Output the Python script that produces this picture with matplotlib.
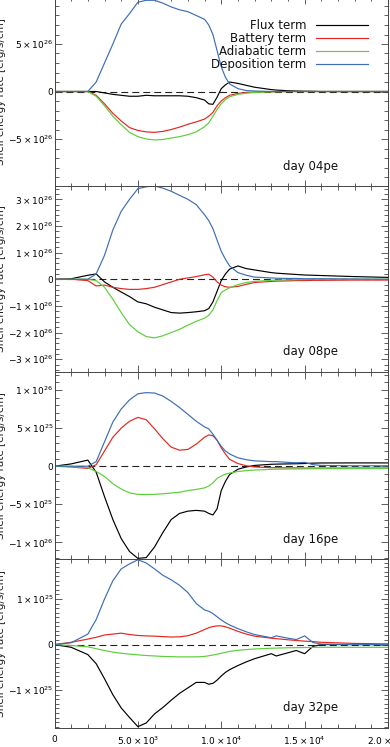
import numpy as np
import matplotlib
matplotlib.use('Agg')
import matplotlib.pyplot as plt
from matplotlib.ticker import FixedLocator, MultipleLocator, FuncFormatter

plt.rcParams['font.family'] = ['DejaVu Sans']
plt.rcParams['mathtext.fontset'] = 'dejavusans'
plt.rcParams['lines.scale_dashes'] = False

# ---------------- data ----------------
radius = [0, 1000, 2000, 2500, 3000, 3500, 4000, 4500, 5000, 5500, 6000, 6500,
          7000, 7500, 8000, 8500, 9000, 9250, 9500, 9750, 10000, 10250, 10500,
          11000, 11500, 12000, 13000, 13300, 14000, 14500, 15000, 15500, 16000,
          18000, 20000]

days = ['04pe', '08pe', '16pe', '32pe']
units = [1e26, 1e26, 1e25, 1e24]

# day 04pe  (units of 1e26 erg/s/cm)
flux_04 = [0, 0, 0, 0, -0.15, -0.3, -0.4, -0.5, -0.5, -0.4, -0.45, -0.45, -0.45,
           -0.45, -0.5, -0.65, -0.9, -1.3, -1.35, -0.6, 0.3, 0.7, 1.0, 0.85,
           0.65, 0.45, 0.2, 0.15, 0.08, 0.05, 0.03, 0.02, 0, 0, 0]
batt_04 = [0, 0, 0, -0.4, -1.3, -2.3, -3.1, -3.8, -4.1, -4.25, -4.3, -4.2, -4.0,
           -3.75, -3.45, -3.2, -2.9, -2.6, -2.2, -1.5, -1.0, -0.65, -0.4, -0.2,
           -0.1, -0.06, -0.03, -0.02, 0, 0, 0, 0, 0, 0, 0]
adia_04 = [0, 0, 0, -0.5, -1.5, -2.6, -3.5, -4.3, -4.75, -5.0, -5.1, -5.05, -4.9,
           -4.75, -4.55, -4.25, -3.7, -3.3, -2.6, -1.9, -1.3, -0.85, -0.55, -0.3,
           -0.18, -0.1, -0.03, -0.02, 0, 0, 0, 0, 0, 0, 0]
depo_04 = [0, 0, 0, 1.0, 3.0, 5.0, 7.1, 8.2, 9.4, 9.6, 9.6, 9.3, 8.9, 8.6, 8.4,
           8.0, 7.6, 7.0, 6.0, 4.3, 2.6, 1.5, 0.8, 0.3, 0.1, 0.05, 0, 0, 0, 0,
           0, 0, 0, 0, 0]

# day 08pe  (units of 1e26)
flux_08 = [0, 0.02, 0.15, 0.2, -0.1, -0.3, -0.48, -0.65, -0.85, -0.92, -1.05,
           -1.15, -1.25, -1.27, -1.25, -1.22, -1.18, -1.1, -0.85, -0.45, -0.05,
           0.2, 0.38, 0.5, 0.4, 0.35, 0.25, 0.23, 0.2, 0.18, 0.16, 0.15, 0.14,
           0.1, 0.07]
batt_08 = [0, 0, -0.05, -0.25, -0.22, -0.3, -0.35, -0.38, -0.38, -0.35, -0.3,
           -0.2, -0.1, 0, 0.05, 0.1, 0.17, 0.19, 0.08, -0.1, -0.22, -0.28, -0.3,
           -0.27, -0.19, -0.12, -0.08, -0.07, -0.06, -0.05, -0.05, -0.04, -0.04,
           -0.03, -0.03]
adia_08 = [0, 0, 0, -0.05, -0.3, -0.75, -1.25, -1.7, -1.97, -2.15, -2.2, -2.12,
           -2.0, -1.88, -1.72, -1.58, -1.46, -1.35, -1.15, -0.8, -0.5, -0.4,
           -0.32, -0.2, -0.12, -0.08, -0.04, -0.03, -0.02, -0.015, -0.01, 0, 0,
           0, 0]
depo_08 = [0, 0, 0, 0.2, 0.9, 1.85, 2.55, 3.0, 3.4, 3.47, 3.5, 3.42, 3.3, 3.15,
           3.0, 2.8, 2.42, 2.2, 1.9, 1.47, 1.05, 0.75, 0.5, 0.25, 0.15, 0.08,
           0.05, 0.04, 0.03, 0.03, 0.02, 0.02, 0.02, 0.01, 0]

# day 16pe  (units of 1e25)
flux_16 = [0, 0.3, 0.8, -0.8, -4.0, -7.0, -9.5, -11.2, -12.1, -12.0, -10.6,
           -8.7, -7.0, -6.2, -5.9, -5.8, -5.9, -6.2, -6.4, -5.6, -3.2, -2.0,
           -1.1, -0.4, -0.1, 0.1, 0.25, 0.27, 0.3, 0.32, 0.35, 0.4, 0.42, 0.43,
           0.43]
batt_16 = [0, -0.1, -0.3, 0.2, 2.0, 3.8, 5.0, 5.9, 6.4, 6.1, 4.9, 3.6, 2.5, 2.1,
           2.2, 2.9, 3.8, 4.1, 4.0, 3.4, 2.4, 1.6, 0.9, 0.35, 0.05, -0.1, -0.2,
           -0.2, -0.22, -0.23, -0.25, -0.25, -0.25, -0.25, -0.25]
adia_16 = [0, -0.05, -0.2, -0.7, -1.35, -2.3, -3.0, -3.5, -3.7, -3.72, -3.7,
           -3.62, -3.52, -3.42, -3.2, -3.05, -2.85, -2.6, -2.2, -1.6, -1.3, -1.05,
           -0.9, -0.7, -0.58, -0.5, -0.42, -0.4, -0.38, -0.36, -0.35, -0.33,
           -0.33, -0.3, -0.3]
depo_16 = [0, 0, 0, 0.6, 3.2, 5.8, 7.5, 8.7, 9.5, 9.65, 9.6, 9.2, 8.5, 7.7, 6.8,
           5.9, 5.15, 4.9, 4.2, 3.4, 2.6, 2.0, 1.6, 1.1, 0.85, 0.7, 0.6, 0.6,
           0.5, 0.45, 0.5, 0.2, 0.1, 0.05, 0.05]

# day 32pe  (units of 1e24)
flux_32 = [0, -0.6, -2.2, -4.2, -7.5, -11.0, -13.9, -16.0, -18.0, -17.2, -15.2,
           -13.8, -12.2, -10.7, -9.5, -8.3, -8.3, -8.7, -8.5, -7.8, -6.9, -6.1,
           -5.5, -4.6, -3.8, -3.1, -2.0, -2.5, -1.8, -1.3, -2.0, -0.4, 0, 0, 0]
batt_32 = [0, 0.5, 1.2, 1.6, 2.1, 2.3, 2.5, 2.2, 2.0, 1.9, 1.85, 1.75, 1.65, 1.7,
           1.95, 2.5, 3.3, 3.7, 3.95, 4.1, 4.1, 3.9, 3.6, 2.9, 2.3, 1.85, 1.4,
           1.3, 1.05, 0.9, 0.75, 0.65, 0.5, 0.25, 0.15]
adia_32 = [0, -0.2, -0.5, -0.9, -1.3, -1.65, -1.9, -2.1, -2.25, -2.4, -2.5, -2.6,
           -2.65, -2.7, -2.7, -2.7, -2.6, -2.45, -2.3, -2.1, -1.9, -1.7, -1.5,
           -1.25, -1.1, -0.97, -0.8, -0.78, -0.7, -0.68, -0.65, -0.62, -0.6,
           -0.6, -0.6]
depo_32 = [0, 0.4, 2.3, 5.5, 10.0, 14.0, 16.6, 17.7, 18.6, 17.9, 16.6, 15.2,
           14.2, 13.0, 11.4, 9.0, 7.6, 7.3, 6.8, 6.1, 5.4, 4.8, 4.3, 3.5, 2.8,
           2.2, 1.5, 1.9, 1.4, 1.1, 1.9, 0.45, 0.1, 0, 0]

series_labels = ['Flux term', 'Battery term', 'Adiabatic term', 'Deposition term']
series_colors = ['black', '#e3261f', '#5cce3a', '#3d6db4']

panel_data = [
    [flux_04, batt_04, adia_04, depo_04],
    [flux_08, batt_08, adia_08, depo_08],
    [flux_16, batt_16, adia_16, depo_16],
    [flux_32, batt_32, adia_32, depo_32],
]

ylims = [(-1.0e27, 1.0e27), (-3.48e26, 3.50e26), (-1.218e26, 1.236e26),
         (-1.83e25, 1.877e25)]
major_ticks = [[-5e26, 0, 5e26],
               [-3e26, -2e26, -1e26, 0, 1e26, 2e26, 3e26],
               [-1e26, -5e25, 0, 5e25, 1e26],
               [-1e25, 0, 1e25]]
minor_steps = [1e26, 2e25, 1e25, 1e24]

xticks = [0, 5000, 10000, 15000, 20000]

# ---------------- layout ----------------
W, H = 390, 747
fig = plt.figure(figsize=(W / 100, H / 100), dpi=100)

panel_px = [(-3.5, 186.5), (186, 372), (372, 559), (559, 728)]
left_px, right_px = 54.5, 388.0


def sci_label(v, decimals=0):
    if v == 0:
        return '0'
    sign = '-' if v < 0 else ''
    a = abs(v)
    e = int(np.floor(np.log10(a) + 1e-9))
    m = a / 10 ** e
    if decimals:
        ms = f'{m:.{decimals}f}'
    else:
        ms = f'{m:.0f}'
    return r'$%s%s\times10^{%d}$' % (sign, ms, e)


axes = []
for i in range(4):
    top, bot = panel_px[i]
    ax = fig.add_axes([left_px / W, 1 - bot / H, (right_px - left_px) / W,
                       (bot - top) / H])
    axes.append(ax)
    xs = np.array(radius)
    ax.axhline(0, color='#222222', lw=0.8, dashes=(5, 2.9), zorder=1)
    for j in range(4):
        ys = np.array(panel_data[i][j]) * units[i]
        ax.plot(xs, ys, color=series_colors[j], lw=0.85, label=series_labels[j],
                zorder=2)
    ax.set_xlim(0, 20000)
    ax.set_ylim(*ylims[i])
    ax.yaxis.set_major_locator(FixedLocator(major_ticks[i]))
    ax.yaxis.set_minor_locator(MultipleLocator(minor_steps[i]))
    ax.yaxis.set_major_formatter(FuncFormatter(lambda v, p: sci_label(v)))
    ax.xaxis.set_major_locator(FixedLocator(xticks))
    ax.xaxis.set_minor_locator(MultipleLocator(1000))
    if i == 3:
        ax.xaxis.set_major_formatter(
            FuncFormatter(lambda v, p: sci_label(v, 1) if v else '0'))
    else:
        ax.tick_params(labelbottom=False)
    ax.tick_params(which='both', direction='in', top=True, right=True,
                   color='#444444', width=0.6, labelsize=6.5)
    ax.tick_params(which='major', length=5)
    ax.tick_params(which='minor', length=2.8)
    ax.tick_params(axis='y', pad=0.8)
    ax.tick_params(axis='x', pad=5)
    for s in ax.spines.values():
        s.set_color('#444444')
        s.set_linewidth(0.7)
    ax.annotate('day ' + days[i], xy=(0.685, 0), xycoords='axes fraction',
                xytext=(0, 20), textcoords='offset pixels',
                ha='left', va='center', fontsize=8.5, color='#111111')
    # y label (partially outside the figure, like the reference)
    fig.text(4.5 / W, 1 - ((top + bot) / 2) / H, 'Shell energy rate [erg/s/cm]',
             rotation=90, rotation_mode='anchor', ha='center', va='baseline',
             fontsize=7.5, color='#222222')

leg = axes[0].legend(loc='upper right', bbox_to_anchor=(0.94, 0.882),
                     frameon=False, markerfirst=False, fontsize=8.5,
                     handlelength=4.4, handletextpad=0.8, labelspacing=0.0,
                     borderpad=0, borderaxespad=0)
for t in leg.get_texts():
    t.set_color('#111111')

fig.savefig('out.png', dpi=100)
